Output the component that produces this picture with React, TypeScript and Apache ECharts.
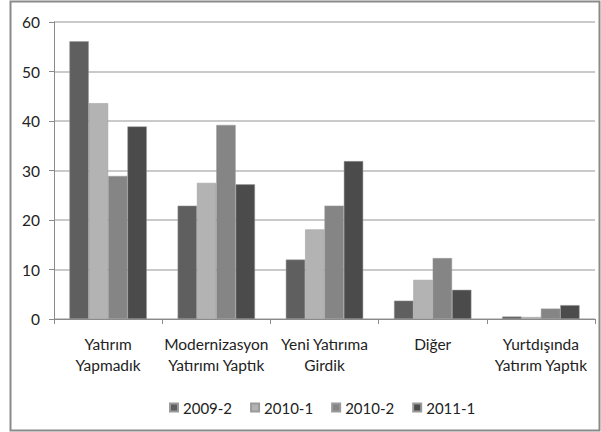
import React, { useEffect, useRef } from "react";
import * as echarts from "echarts";

const categories = [
  "Yatırım\nYapmadık",
  "Modernizasyon\nYatırımı Yaptık",
  "Yeni Yatırıma\nGirdik",
  "Diğer",
  "Yurtdışında\nYatırım Yaptık",
];
const seriesNames = ["2009-2", "2010-1", "2010-2", "2011-1"];
const s2009_2 = [56.1, 22.9, 12.0, 3.7, 0.5];
const s2010_1 = [43.6, 27.5, 18.1, 7.9, 0.4];
const s2010_2 = [28.9, 39.2, 22.9, 12.3, 2.1];
const s2011_1 = [38.9, 27.2, 31.9, 5.9, 2.8];
const seriesColors = ["#5f5f5f", "#b3b3b3", "#858585", "#4b4b4b"];
const yTicks = { min: 0, max: 60, interval: 10 };

export default function App() {
  const ref = useRef<HTMLDivElement>(null);
  useEffect(() => {
    if (!ref.current) return;
    const chart = echarts.init(ref.current, null, { renderer: "svg" });
    const font = "Lato, 'Open Sans', sans-serif";
    const data = [s2009_2, s2010_1, s2010_2, s2011_1];
    chart.setOption({
      animation: false,
      backgroundColor: "#ffffff",
      textStyle: { fontFamily: font },
      graphic: [
        {
          type: "rect",
          shape: { x: 10.5, y: 1.5, width: 589, height: 429 },
          style: { fill: "none", stroke: "#8a8a8a", lineWidth: 2 },
          silent: true,
          z: -1,
        },
      ],
      grid: { left: 54, right: 6, top: 22, bottom: 113 },
      legend: {
        data: seriesNames,
        left: 164,
        top: 395,
        itemWidth: 8,
        itemHeight: 8,
        itemGap: 18,
        icon: "rect",
        textStyle: { fontSize: 15, color: "#222", fontFamily: font },
      },
      xAxis: {
        type: "category",
        data: categories,
        axisLine: { show: true, lineStyle: { color: "#8a8a8a", width: 1 } },
        axisTick: { show: true, length: 5, lineStyle: { color: "#8a8a8a" } },
        axisLabel: {
          fontSize: 15.5,
          color: "#222",
          lineHeight: 21,
          margin: 14,
          interval: 0,
          fontFamily: font,
        },
      },
      yAxis: {
        type: "value",
        min: yTicks.min,
        max: yTicks.max,
        interval: yTicks.interval,
        axisLine: { show: true, lineStyle: { color: "#8a8a8a", width: 1 } },
        axisTick: { show: true, length: 5, lineStyle: { color: "#8a8a8a" } },
        axisLabel: { fontSize: 15.5, color: "#222", margin: 14, fontFamily: font },
        splitLine: { show: true, lineStyle: { color: "#b8b8b8", width: 1.5 } },
      },
      series: seriesNames.map((name, i) => ({
        name,
        type: "bar",
        data: data[i],
        barGap: "0%",
        barCategoryGap: "28.5%",
        itemStyle: { color: seriesColors[i], borderColor: "#9a9a9a", borderWidth: 0.5 },
      })),
    });
    return () => chart.dispose();
  }, []);
  return (
    <div
      ref={ref}
      style={{ position: "absolute", left: 0, top: 0, width: 601, height: 432 }}
    />
  );
}
